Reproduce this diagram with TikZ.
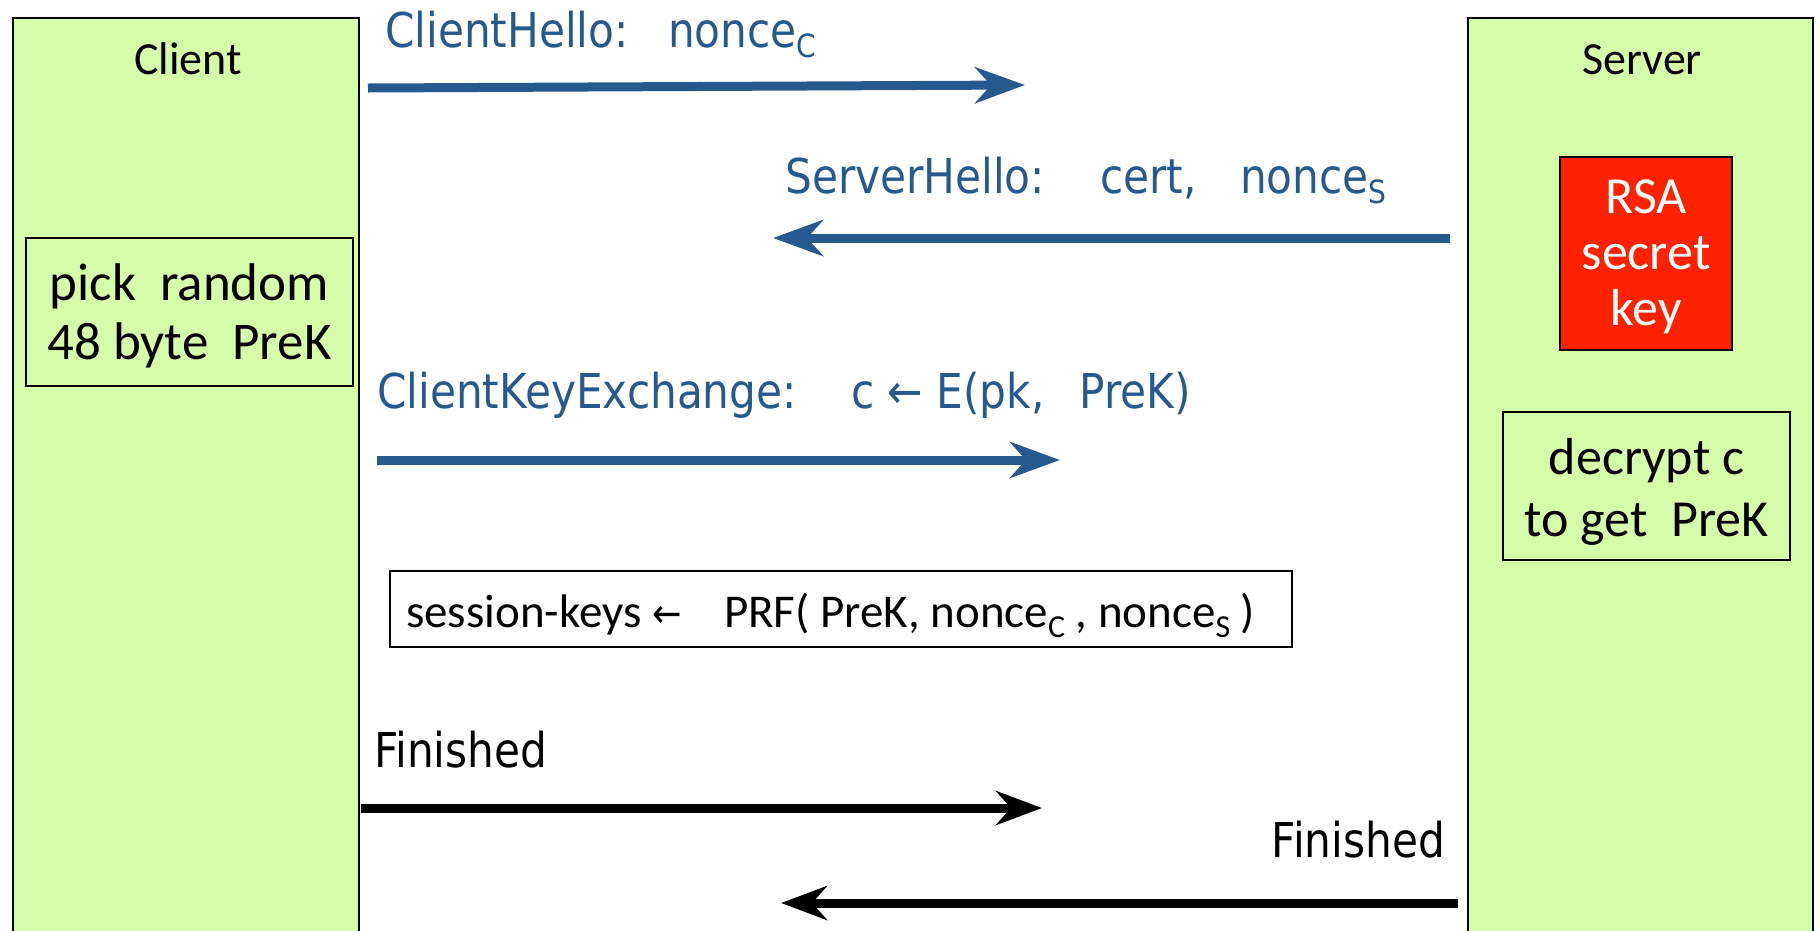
\documentclass[tikz,border=0pt]{standalone}
\usepackage{fontspec}
\setmainfont{Carlito}
\newfontfamily\tah[FakeStretch=0.88]{DejaVu Sans}
\usetikzlibrary{arrows.meta}
\definecolor{pgreen}{RGB}{213,252,168}
\definecolor{pblue}{RGB}{38,90,142}
\definecolor{pred}{RGB}{255,34,0}
\newcommand{\lowsub}[1]{\raisebox{-10pt}{\fontsize{32}{32}\selectfont #1}}
\begin{document}
\begin{tikzpicture}[x=1pt,y=-1pt,
  party/.style={draw=black, line width=2pt, fill=pgreen, inner sep=0pt, anchor=north west},
  partyname/.style={anchor=base, inner sep=0pt, font=\fontsize{46}{55}\selectfont},
  stepbox/.style={draw=black, line width=2pt, fill=pgreen, inner sep=0pt, align=center},
  secretbox/.style={draw=black, line width=2pt, fill=pred, text=white, inner sep=0pt, align=center,
    font=\fontsize{52}{56}\selectfont},
  msglabel/.style={inner sep=0pt, text=pblue, font=\tah\fontsize{48}{56}\selectfont},
  finlabel/.style={inner sep=0pt, text=black, font=\tah\fontsize{48}{56}\selectfont},
  bluearrow/.style={draw=pblue, line width=9pt, -{Stealth[length=50pt,width=36pt,inset=16pt]}},
  blackarrow/.style={draw=black, line width=9pt, -{Stealth[length=46pt,width=34pt,inset=15pt]}},
]
\useasboundingbox (0,0) rectangle (1820,930);
\fill[white] (0,0) rectangle (1820,930);

% parties
\node[party, minimum width=346pt, minimum height=960pt] (client) at (12,17) {};
\node[party, minimum width=345pt, minimum height=960pt] (server) at (1467,17) {};
\node[partyname] (clientname) at (188,74) {Client};
\node[partyname] (servername) at (1642,74) {Server};

% inner boxes
\node[stepbox, minimum width=327pt, minimum height=148pt] (pick) at (189.5,312) {};
\node[inner sep=0pt, align=center, font=\fontsize{53}{59}\selectfont] (picktext) at (189.5,316) {pick\ \ random\\48 byte\ \ PreK};
\node[secretbox, minimum width=172pt, minimum height=193pt] (rsa) at (1646,253.5) {};
\node[inner sep=0pt, align=center, text=white, font=\fontsize{52}{56}\selectfont] (rsatext) at (1646,257) {RSA\\secret\\key};
\node[stepbox, minimum width=287pt, minimum height=148pt] (decrypt) at (1646.5,486) {};
\node[inner sep=0pt, align=center, font=\fontsize{52}{62}\selectfont] (decrypttext) at (1646.5,492) {decrypt c\\to get\ \ PreK};
\node[draw=black, line width=2pt, fill=white, minimum width=902pt, minimum height=76pt, inner sep=0pt] (sessbox) at (841,609) {};
\node[anchor=base west, inner sep=0pt, font=\fontsize{47}{50}\selectfont] (sess) at (406,627)
  {session-keys {\tah\fontsize{40}{40}\selectfont ←}\ \ \ \ PRF( PreK, nonce\lowsub{C} , nonce\lowsub{S} )};

% message labels
\node[msglabel, anchor=base west] (chlabel) at (385,47) {ClientHello:};
\node[msglabel, anchor=base west] (chnonce) at (668,47) {nonce\lowsub{C}};
\node[msglabel, anchor=base west] (shlabel) at (785,193) {ServerHello:};
\node[msglabel, anchor=base west] (shcert) at (1100,193) {cert,};
\node[msglabel, anchor=base west] (shnonce) at (1240,193) {nonce\lowsub{S}};
\node[msglabel, anchor=base west] (ckelabel) at (377,408) {ClientKeyExchange:};
\node[msglabel, anchor=base west] (ckeval) at (851,408) {c ← E(pk,\ \ \,PreK)};
\node[finlabel, anchor=base west] (fin1) at (374,767) {Finished};
\node[finlabel, anchor=base east] (fin2) at (1445,857) {Finished};

% arrow end points
\coordinate (chA) at (368,88);   \coordinate (chB) at (1025,85);
\coordinate (shA) at (1450,238); \coordinate (shB) at (773,238);
\coordinate (ckA) at (377,460);  \coordinate (ckB) at (1060,460);
\coordinate (f1A) at (361,808);  \coordinate (f1B) at (1042,808);
\coordinate (f2A) at (1458,903); \coordinate (f2B) at (781,903);

\draw[bluearrow] (chA) -- (chB);
\draw[bluearrow] (shA) -- (shB);
\draw[bluearrow] (ckA) -- (ckB);
\draw[blackarrow] (f1A) -- (f1B);
\draw[blackarrow] (f2A) -- (f2B);
\end{tikzpicture}
\end{document}
